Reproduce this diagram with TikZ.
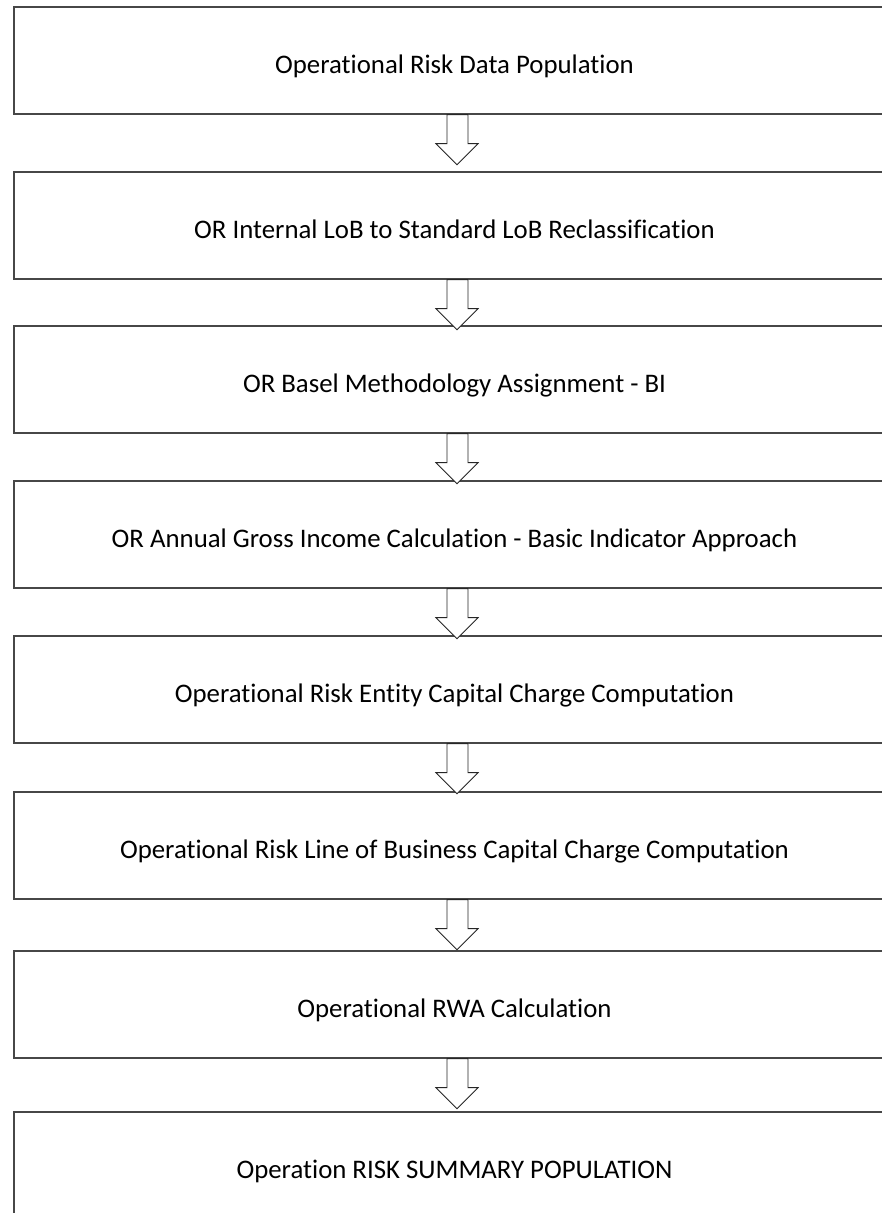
\documentclass[tikz,border=0pt]{standalone}
\usepackage{fontspec}
\setmainfont[Ligatures=NoCommon]{Carlito}
\begin{document}
\begin{tikzpicture}[x=1pt,y=-1pt,
  stage/.style={draw=black!72, line width=1.3pt, minimum width=881pt, minimum height=107pt,
    inner sep=0pt, text height=25pt, text depth=0pt, font=\fontsize{26.8}{30}\selectfont},
  fatarrow/.style={draw=black!85, line width=0.9pt, fill=white, line join=miter}]
\useasboundingbox (0,0) rectangle (882,1213);
\clip (0,0) rectangle (882,1213);
\node[stage] (b1) at (454.5,60.5) {Operational Risk Data Population};
\node[stage] (b2) at (454.5,225.5) {OR Internal LoB to Standard LoB Reclassification};
\node[stage] (b3) at (454.5,379.5) {OR Basel Methodology Assignment - BI};
\node[stage] (b4) at (454.5,534.5) {OR Annual Gross Income Calculation - Basic Indicator Approach};
\node[stage] (b5) at (454.5,689.5) {Operational Risk Entity Capital Charge Computation};
\node[stage] (b6) at (454.5,845.5) {Operational Risk Line of Business Capital Charge Computation};
\node[stage] (b7) at (454.5,1004.5) {Operational RWA Calculation};
\node[stage] (b8) at (454.5,1165.5) {Operation RISK SUMMARY POPULATION};
\foreach \a in {b1,b2,b3,b4,b5,b6,b7}{
  \draw[fatarrow] ([xshift=-7.5pt]\a.south) -- ++(0,29) -- ++(-11,0) -- ++(21,21) -- ++(21,-21) -- ++(-10,0) -- ++(0,-29) -- cycle;
}
\end{tikzpicture}
\end{document}
